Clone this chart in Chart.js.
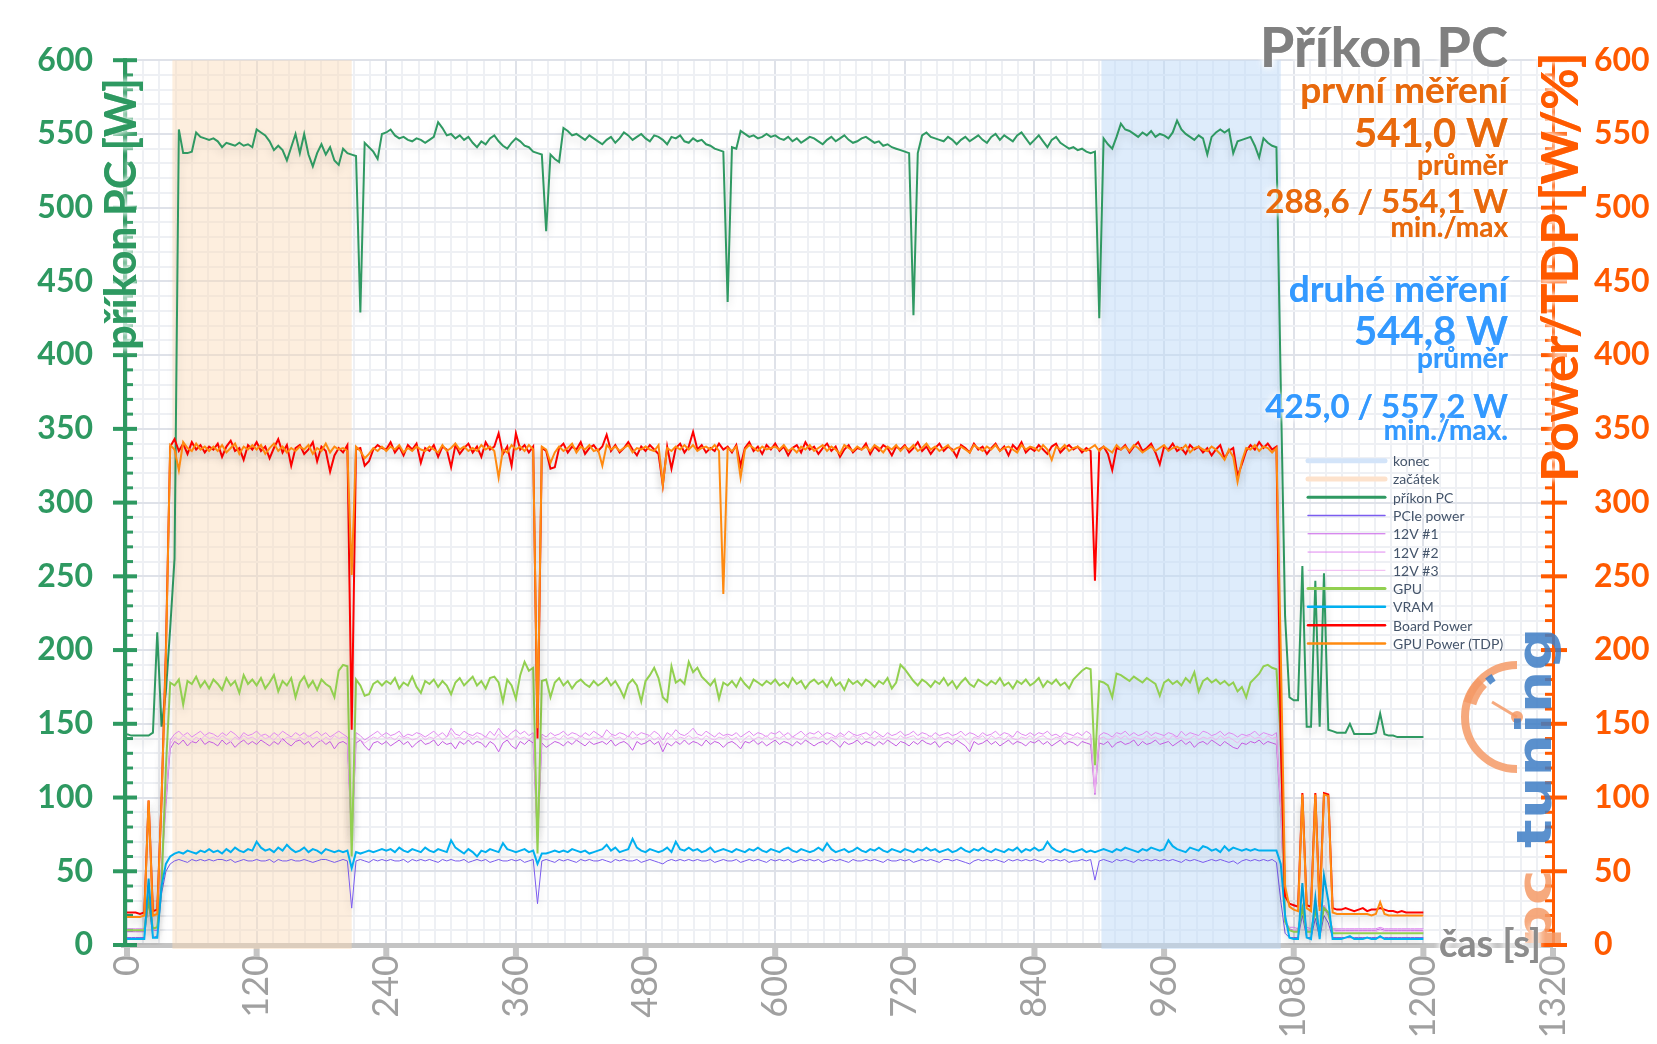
<!DOCTYPE html>
<html>
<head>
<meta charset="utf-8">
<script src="https://cdn.jsdelivr.net/npm/chart.js@4.4.1/dist/chart.umd.min.js"></script>
<style>
  html, body { margin: 0; padding: 0; background: #fff; }
  #wrap { width: 1657px; height: 1044px; position: relative; }
</style>
</head>
<body>
<div id="wrap"><canvas id="myChart"></canvas></div>
<script>
// time in seconds, one sample every 4 s
const seconds = [
  0, 4, 8, 12, 16, 20, 24, 28, 32, 36,
  40, 44, 48, 52, 56, 60, 64, 68, 72, 76,
  80, 84, 88, 92, 96, 100, 104, 108, 112, 116,
  120, 124, 128, 132, 136, 140, 144, 148, 152, 156,
  160, 164, 168, 172, 176, 180, 184, 188, 192, 196,
  200, 204, 208, 212, 216, 220, 224, 228, 232, 236,
  240, 244, 248, 252, 256, 260, 264, 268, 272, 276,
  280, 284, 288, 292, 296, 300, 304, 308, 312, 316,
  320, 324, 328, 332, 336, 340, 344, 348, 352, 356,
  360, 364, 368, 372, 376, 380, 384, 388, 392, 396,
  400, 404, 408, 412, 416, 420, 424, 428, 432, 436,
  440, 444, 448, 452, 456, 460, 464, 468, 472, 476,
  480, 484, 488, 492, 496, 500, 504, 508, 512, 516,
  520, 524, 528, 532, 536, 540, 544, 548, 552, 556,
  560, 564, 568, 572, 576, 580, 584, 588, 592, 596,
  600, 604, 608, 612, 616, 620, 624, 628, 632, 636,
  640, 644, 648, 652, 656, 660, 664, 668, 672, 676,
  680, 684, 688, 692, 696, 700, 704, 708, 712, 716,
  720, 724, 728, 732, 736, 740, 744, 748, 752, 756,
  760, 764, 768, 772, 776, 780, 784, 788, 792, 796,
  800, 804, 808, 812, 816, 820, 824, 828, 832, 836,
  840, 844, 848, 852, 856, 860, 864, 868, 872, 876,
  880, 884, 888, 892, 896, 900, 904, 908, 912, 916,
  920, 924, 928, 932, 936, 940, 944, 948, 952, 956,
  960, 964, 968, 972, 976, 980, 984, 988, 992, 996,
  1000, 1004, 1008, 1012, 1016, 1020, 1024, 1028, 1032, 1036,
  1040, 1044, 1048, 1052, 1056, 1060, 1064, 1068, 1072, 1076,
  1080, 1084, 1088, 1092, 1096, 1100, 1104, 1108, 1112, 1116,
  1120, 1124, 1128, 1132, 1136, 1140, 1144, 1148, 1152, 1156,
  1160, 1164, 1168, 1172, 1176, 1180, 1184, 1188, 1192, 1196,
  1200
];

const prikonPC = [
  143, 142, 142, 142, 142, 142, 144, 212, 148, 172,
  215, 262, 553, 537, 537, 538, 551, 548, 547, 546,
  547, 545, 541, 544, 543, 542, 544, 542, 543, 541,
  553, 551, 549, 545, 539, 542, 539, 532, 541, 550,
  537, 550, 536, 528, 537, 543, 536, 541, 532, 529,
  540, 537, 536, 535, 429, 544, 541, 538, 533, 550,
  551, 553, 549, 547, 548, 546, 545, 547, 546, 544,
  546, 548, 558, 554, 549, 550, 547, 549, 546, 548,
  544, 541, 545, 543, 547, 549, 545, 542, 540, 544,
  547, 545, 542, 541, 538, 537, 536, 484, 536, 533,
  531, 554, 552, 549, 550, 548, 546, 549, 547, 545,
  543, 546, 548, 544, 547, 551, 549, 546, 548, 550,
  547, 545, 549, 548, 546, 543, 548, 547, 549, 545,
  544, 547, 545, 546, 543, 542, 540, 539, 538, 436,
  541, 540, 552, 550, 548, 549, 547, 548, 550, 548,
  549, 547, 546, 548, 545, 547, 544, 546, 548, 547,
  545, 543, 546, 548, 545, 547, 549, 546, 544, 545,
  547, 548, 546, 544, 545, 542, 543, 541, 540, 539,
  538, 537, 427, 537, 549, 551, 548, 547, 546, 545,
  548, 546, 543, 546, 548, 545, 547, 549, 546, 544,
  548, 550, 546, 549, 547, 545, 549, 551, 547, 543,
  546, 549, 545, 541, 546, 548, 544, 542, 540, 541,
  539, 540, 538, 537, 538, 425, 547, 543, 540, 548,
  557, 553, 552, 550, 548, 551, 549, 552, 548, 550,
  549, 547, 551, 559, 553, 550, 548, 546, 549, 547,
  536, 548, 551, 553, 551, 553, 537, 545, 546, 547,
  548, 542, 534, 547, 544, 542, 541, 380, 223, 168,
  166, 166, 257, 148, 148, 247, 148, 252, 146, 145,
  144, 144, 144, 150, 143, 143, 143, 143, 143, 144,
  157, 143, 142, 142, 141, 141, 141, 141, 141, 141,
  141
];

const pciePower = [
  5, 5, 5, 5, 5, 30, 5, 6, 35, 50,
  55, 57, 58, 57, 56, 58, 57, 58, 57, 58,
  57, 58, 58, 57, 58, 56, 57, 58, 57, 57,
  58, 57, 57, 58, 56, 58, 57, 57, 58, 57,
  57, 58, 57, 56, 57, 58, 58, 57, 56, 57,
  58, 57, 25, 57, 58, 57, 56, 58, 57, 58,
  57, 58, 57, 57, 58, 56, 58, 57, 58, 57,
  58, 57, 56, 58, 57, 58, 57, 57, 58, 56,
  57, 58, 57, 58, 56, 57, 58, 57, 57, 58,
  57, 58, 56, 57, 58, 28, 57, 58, 57, 56,
  58, 57, 58, 57, 56, 58, 57, 58, 57, 57,
  58, 57, 56, 58, 57, 58, 57, 57, 58, 56,
  57, 58, 57, 56, 55, 57, 58, 57, 58, 57,
  58, 57, 58, 57, 57, 58, 56, 57, 58, 57,
  57, 58, 56, 57, 58, 57, 58, 57, 56, 58,
  57, 58, 57, 58, 56, 57, 58, 57, 58, 57,
  58, 56, 57, 58, 57, 58, 57, 56, 58, 57,
  57, 58, 57, 58, 57, 56, 58, 57, 57, 58,
  57, 58, 56, 57, 58, 57, 58, 57, 56, 58,
  58, 57, 58, 57, 56, 55, 57, 58, 57, 58,
  57, 58, 57, 56, 58, 57, 58, 57, 58, 57,
  58, 57, 56, 58, 57, 58, 57, 58, 56, 57,
  57, 58, 57, 58, 44, 57, 58, 57, 56, 58,
  57, 58, 57, 56, 58, 57, 58, 57, 58, 57,
  58, 57, 58, 57, 56, 58, 57, 58, 57, 56,
  57, 58, 57, 58, 57, 56, 57, 55, 57, 58,
  57, 58, 57, 58, 57, 58, 56, 30, 8, 5,
  5, 5, 20, 5, 5, 18, 5, 20, 15, 5,
  5, 5, 5, 5, 5, 5, 5, 5, 5, 5,
  5, 5, 5, 5, 5, 5, 5, 5, 5, 5,
  5
];

const rail12v1 = [
  9, 9, 9, 9, 9, 35, 10, 10, 50, 95,
  133, 138, 136, 139, 135, 138, 137, 140, 136, 138,
  137, 135, 139, 136, 138, 134, 137, 139, 136, 138,
  136, 139, 137, 135, 138, 136, 140, 137, 135, 138,
  139, 136, 138, 134, 137, 139, 136, 138, 133, 137,
  138, 136, 70, 137, 139, 135, 132, 137, 138, 136,
  138, 135, 137, 139, 136, 138, 134, 137, 139, 136,
  137, 139, 135, 138, 136, 137, 133, 138, 136, 139,
  136, 138, 137, 134, 138, 136, 131, 137, 139, 135,
  133, 138, 136, 139, 137, 70, 137, 134, 136, 138,
  137, 135, 138, 136, 139, 137, 135, 138, 136, 137,
  138, 136, 139, 135, 137, 138, 136, 132, 138, 136,
  137, 139, 136, 138, 131, 137, 135, 138, 136, 139,
  136, 138, 137, 135, 139, 136, 138, 137, 134, 137,
  138, 136, 133, 138, 137, 139, 136, 138, 135, 137,
  139, 136, 138, 137, 135, 138, 136, 139, 137, 135,
  137, 138, 136, 139, 137, 134, 138, 136, 137, 139,
  136, 138, 137, 135, 138, 136, 139, 137, 135, 138,
  137, 135, 138, 136, 139, 137, 136, 138, 134, 137,
  138, 136, 139, 137, 135, 131, 138, 136, 137, 139,
  136, 138, 135, 137, 139, 136, 138, 137, 135, 138,
  137, 139, 136, 138, 135, 137, 139, 136, 138, 137,
  135, 138, 137, 136, 102, 137, 136, 138, 134, 137,
  138, 136, 137, 139, 135, 138, 136, 137, 139, 136,
  137, 138, 135, 137, 139, 136, 138, 134, 137, 138,
  136, 139, 137, 135, 138, 136, 134, 133, 137, 136,
  138, 137, 139, 136, 138, 137, 136, 90, 15, 11,
  10, 10, 25, 10, 10, 22, 10, 25, 20, 10,
  10, 10, 10, 10, 10, 10, 10, 10, 10, 10,
  11, 10, 10, 10, 10, 10, 10, 10, 10, 10,
  10
];

const rail12v2 = [
  11, 11, 11, 11, 11, 38, 11, 12, 55, 100,
  139, 143, 145, 142, 144, 141, 143, 145, 142, 144,
  143, 141, 144, 142, 145, 143, 140, 144, 142, 143,
  145, 142, 143, 141, 144, 142, 145, 143, 141, 144,
  142, 144, 141, 143, 145, 142, 144, 141, 143, 145,
  143, 141, 75, 144, 142, 139, 141, 143, 145, 142,
  144, 142, 143, 145, 141, 143, 142, 144, 143, 141,
  143, 145, 142, 144, 141, 147, 143, 142, 145, 143,
  142, 144, 143, 141, 145, 142, 147, 143, 141, 144,
  146, 143, 145, 142, 144, 75, 143, 141, 144, 142,
  143, 145, 142, 144, 143, 141, 144, 142, 145, 143,
  141, 146, 143, 142, 144, 143, 141, 145, 142, 144,
  143, 142, 145, 143, 139, 144, 142, 146, 143, 142,
  144, 147, 143, 142, 145, 143, 141, 144, 142, 143,
  142, 144, 141, 143, 145, 142, 144, 143, 141, 144,
  143, 145, 142, 144, 141, 143, 145, 142, 144, 143,
  145, 142, 144, 143, 141, 144, 142, 145, 143, 142,
  143, 144, 142, 145, 143, 141, 144, 142, 143, 145,
  142, 143, 145, 142, 144, 143, 141, 144, 142, 143,
  144, 142, 143, 145, 142, 144, 143, 141, 144, 142,
  143, 145, 142, 144, 143, 141, 145, 143, 142, 144,
  142, 144, 143, 145, 142, 143, 141, 144, 143, 142,
  144, 142, 145, 143, 104, 142, 144, 143, 141, 144,
  143, 145, 142, 144, 142, 143, 145, 142, 144, 143,
  142, 144, 143, 141, 145, 142, 144, 143, 142, 145,
  144, 142, 143, 145, 142, 144, 143, 141, 143, 142,
  143, 145, 142, 144, 143, 142, 144, 95, 16, 12,
  12, 11, 27, 12, 11, 24, 11, 27, 22, 11,
  11, 11, 11, 11, 11, 11, 11, 11, 11, 11,
  12, 11, 11, 11, 11, 11, 11, 11, 11, 11,
  11
];

const rail12v3 = [
  10, 10, 10, 10, 10, 36, 10, 11, 52, 98,
  136, 141, 139, 142, 140, 138, 141, 139, 142, 140,
  141, 139, 142, 140, 138, 141, 139, 142, 140, 141,
  139, 142, 140, 141, 139, 142, 138, 141, 140, 139,
  141, 139, 142, 140, 141, 138, 141, 139, 142, 140,
  141, 140, 72, 141, 139, 137, 139, 141, 140, 142,
  140, 141, 139, 142, 140, 141, 139, 140, 142, 139,
  141, 140, 142, 139, 141, 144, 140, 141, 139, 142,
  140, 142, 139, 141, 140, 139, 143, 140, 141, 139,
  142, 140, 141, 139, 142, 72, 141, 139, 140, 141,
  139, 142, 140, 141, 139, 142, 140, 139, 141, 140,
  141, 139, 142, 140, 141, 139, 142, 140, 141, 139,
  140, 142, 139, 141, 135, 140, 142, 139, 141, 140,
  142, 140, 141, 139, 142, 140, 139, 141, 140, 142,
  139, 141, 137, 140, 142, 139, 141, 140, 142, 139,
  141, 140, 142, 139, 141, 140, 139, 142, 140, 141,
  140, 142, 139, 141, 140, 142, 141, 139, 142, 140,
  142, 139, 141, 140, 142, 139, 141, 140, 139, 142,
  140, 141, 142, 139, 141, 140, 142, 139, 141, 140,
  141, 139, 140, 142, 139, 136, 141, 140, 142, 139,
  142, 140, 141, 139, 142, 140, 139, 141, 140, 142,
  139, 141, 142, 140, 139, 141, 140, 142, 139, 141,
  141, 140, 139, 142, 103, 140, 141, 139, 140, 142,
  140, 142, 139, 141, 140, 139, 142, 140, 141, 139,
  141, 139, 142, 140, 141, 139, 140, 142, 139, 141,
  140, 141, 139, 142, 140, 141, 139, 137, 140, 141,
  142, 140, 141, 139, 142, 140, 141, 92, 15, 10,
  10, 10, 26, 10, 10, 23, 10, 26, 21, 10,
  9, 9, 9, 9, 9, 9, 9, 9, 9, 9,
  10, 9, 9, 9, 9, 9, 9, 9, 9, 9,
  9
];

const gpuCore = [
  10, 10, 10, 10, 10, 30, 11, 12, 40, 120,
  178, 176, 180, 163, 179, 177, 182, 175, 179, 174,
  180, 177, 173, 181, 176, 179, 171, 183, 177, 180,
  176, 181, 174, 178, 183, 172, 179, 176, 181, 168,
  178, 182, 175, 179, 173, 180, 177, 175, 168, 186,
  190, 189, 60, 180, 176, 169, 170, 177, 179, 176,
  179, 177, 181, 174, 178, 176, 182, 175, 171, 179,
  177, 180, 175, 179, 176, 170, 178, 181, 176, 179,
  182, 176, 179, 174, 181, 182, 178, 165, 180, 176,
  167, 183, 192, 186, 188, 62, 179, 180, 168, 178,
  181, 176, 179, 174, 178, 180, 177, 175, 179, 176,
  178, 181, 176, 179, 174, 168, 177, 180, 176, 165,
  179, 183, 188, 181, 168, 165, 189, 178, 180, 177,
  192, 185, 188, 182, 179, 176, 180, 167, 178, 176,
  179, 175, 181, 177, 174, 180, 178, 176, 179, 177,
  180, 176, 178, 175, 181, 177, 179, 174, 178, 180,
  177, 179, 175, 181, 176, 178, 173, 180, 177, 179,
  176, 180, 178, 175, 179, 177, 181, 174, 178, 190,
  187, 183, 179, 176, 180, 178, 175, 179, 177, 181,
  176, 179, 174, 178, 181, 177, 175, 180, 178, 176,
  179, 177, 181, 176, 178, 174, 179, 177, 180, 176,
  178, 181, 175, 179, 177, 180, 176, 178, 174, 180,
  183, 186, 188, 187, 122, 179, 178, 176, 168, 184,
  183, 181, 179, 182, 180, 178, 181, 179, 177, 169,
  178, 180, 177, 179, 176, 181, 178, 185, 172, 179,
  181, 178, 180, 177, 179, 176, 178, 172, 175, 168,
  178, 181, 184, 189, 190, 188, 187, 140, 16, 10,
  9, 9, 25, 9, 9, 24, 9, 25, 22, 8,
  8, 8, 8, 8, 8, 8, 8, 8, 8, 8,
  8, 8, 8, 8, 8, 8, 8, 8, 8, 8,
  8
];

const vramPower = [
  4, 4, 4, 4, 4, 45, 5, 5, 40, 55,
  60, 62, 63, 62, 64, 63, 62, 64, 63, 65,
  63, 64, 62, 65, 63, 66, 64, 63, 65, 64,
  70, 66, 64, 65, 63, 66, 64, 68, 65, 63,
  64, 66, 63, 65, 64, 62, 65, 64, 63, 64,
  63, 64, 52, 63, 62, 63, 64, 63, 64, 65,
  64, 65, 63, 66, 64, 63, 65, 64, 63, 66,
  64, 63, 65, 64, 63, 71, 66, 64, 62, 65,
  63, 60, 64, 63, 65, 64, 63, 69, 65, 64,
  63, 64, 65, 63, 64, 55, 62, 62, 63, 64,
  63, 64, 63, 65, 64, 63, 64, 62, 63, 64,
  65, 68, 64, 66, 63, 64, 65, 72, 66, 64,
  63, 65, 64, 63, 64, 66, 63, 70, 65, 64,
  66, 64, 65, 63, 64, 66, 63, 64, 65, 64,
  63, 65, 64, 63, 65, 64, 66, 64, 63, 65,
  64, 63, 65, 66, 64, 63, 65, 64, 63, 64,
  66, 64, 69, 65, 63, 64, 65, 63, 64, 66,
  64, 63, 65, 64, 66, 64, 63, 65, 64, 63,
  65, 64, 63, 65, 64, 66, 64, 65, 63, 64,
  65, 63, 64, 66, 64, 63, 65, 64, 66, 64,
  63, 65, 64, 63, 65, 64, 66, 63, 65, 64,
  66, 64, 65, 70, 66, 64, 63, 65, 64, 63,
  64, 65, 63, 64, 63, 64, 65, 64, 63, 65,
  64, 66, 65, 64, 63, 65, 64, 66, 65, 64,
  65, 71, 67, 65, 64, 63, 66, 65, 64, 67,
  66, 64, 65, 63, 67, 64, 66, 65, 64, 65,
  64, 65, 64, 64, 64, 64, 64, 55, 20, 5,
  4, 4, 42, 5, 4, 32, 4, 47, 30, 4,
  4, 4, 5, 6, 4, 4, 4, 5, 4, 4,
  6, 4, 4, 4, 4, 4, 4, 4, 4, 4,
  4
];

const boardPower = [
  22, 22, 22, 21, 22, 98, 23, 24, 99, 200,
  338, 343, 335, 340, 333, 341, 336, 339, 334, 338,
  336, 340, 331, 338, 342, 335, 337, 329, 339, 336,
  341, 335, 338, 330, 337, 343, 334, 339, 325, 337,
  339, 333, 336, 341, 328, 338, 335, 321, 332, 337,
  334, 339, 146, 336, 337, 325, 328, 336, 339, 337,
  336, 341, 334, 338, 332, 339, 336, 340, 327, 337,
  335, 339, 331, 338, 336, 324, 339, 333, 337, 340,
  334, 338, 331, 341, 336, 338, 347, 333, 338, 325,
  347, 336, 339, 334, 338, 140, 337, 335, 323, 324,
  337, 340, 334, 338, 336, 341, 333, 337, 339, 335,
  338, 346, 335, 339, 334, 337, 341, 336, 332, 338,
  335, 339, 336, 333, 312, 338, 323, 337, 340, 334,
  338, 348, 336, 339, 334, 337, 335, 340, 336, 338,
  334, 339, 325, 337, 341, 335, 338, 333, 339, 336,
  340, 335, 338, 332, 337, 339, 334, 341, 336, 338,
  333, 337, 340, 335, 338, 331, 336, 339, 334, 337,
  336, 340, 333, 338, 335, 339, 337, 332, 338, 336,
  339, 334, 337, 341, 335, 338, 333, 337, 340, 335,
  338, 336, 331, 339, 337, 334, 340, 336, 338, 333,
  337, 340, 335, 338, 332, 339, 336, 341, 334, 337,
  335, 339, 336, 333, 338, 340, 334, 337, 339, 336,
  338, 334, 337, 335, 247, 336, 338, 333, 322, 337,
  336, 339, 334, 338, 341, 335, 337, 340, 334, 326,
  338, 336, 340, 335, 337, 333, 339, 336, 338, 334,
  337, 332, 336, 339, 330, 335, 337, 318, 326, 335,
  339, 336, 341, 337, 340, 336, 338, 137, 33, 28,
  27, 26, 103, 27, 26, 103, 26, 103, 102, 25,
  24, 24, 25, 24, 23, 24, 25, 23, 24, 24,
  25, 24, 23, 23, 22, 23, 22, 22, 22, 22,
  22
];

const tdpPower = [
  19, 19, 19, 19, 20, 98, 20, 21, 99, 195,
  339, 336, 322, 341, 337, 335, 340, 336, 338, 335,
  338, 335, 339, 334, 337, 340, 333, 338, 336, 339,
  336, 339, 333, 337, 340, 335, 338, 334, 337, 335,
  338, 336, 339, 333, 337, 335, 340, 334, 338, 336,
  337, 335, 251, 338, 335, 330, 333, 337, 335, 338,
  335, 338, 336, 339, 334, 337, 335, 338, 336, 335,
  338, 336, 334, 339, 335, 337, 340, 336, 338, 335,
  337, 335, 339, 336, 338, 335, 317, 336, 334, 339,
  336, 338, 335, 339, 336, 147, 338, 336, 327, 334,
  338, 335, 337, 340, 334, 338, 336, 339, 335, 336,
  325, 339, 336, 338, 335, 337, 339, 334, 337, 336,
  338, 336, 335, 339, 312, 337, 335, 338, 336, 339,
  336, 339, 335, 337, 338, 336, 339, 335, 238, 337,
  335, 338, 317, 336, 339, 337, 335, 338, 336, 337,
  338, 336, 339, 335, 337, 334, 338, 336, 339, 335,
  337, 339, 335, 338, 336, 333, 339, 337, 335, 338,
  336, 338, 335, 339, 337, 334, 338, 336, 339, 335,
  338, 336, 339, 335, 337, 340, 336, 338, 335, 337,
  339, 335, 337, 338, 336, 334, 339, 337, 335, 338,
  336, 339, 335, 337, 338, 336, 334, 339, 336, 338,
  337, 335, 339, 336, 329, 338, 336, 339, 335, 337,
  338, 336, 335, 337, 339, 335, 338, 336, 334, 339,
  336, 338, 335, 339, 337, 334, 336, 338, 335, 337,
  339, 335, 337, 338, 336, 339, 334, 337, 338, 336,
  335, 338, 336, 333, 329, 336, 331, 314, 328, 337,
  336, 339, 335, 338, 337, 334, 337, 200, 40, 26,
  24, 23, 102, 25, 23, 102, 23, 102, 101, 22,
  21, 21, 21, 21, 21, 21, 21, 21, 20, 21,
  29, 21, 20, 20, 20, 20, 20, 20, 20, 20,
  20
];

// measured windows (s)
const startWindow = [42, 208];
const endWindow = [902, 1068];

const chartTitle = 'Příkon PC';
const firstRun = ['první měření', '541,0 W', 'průměr', '288,6 / 554,1 W', 'min./max'];
const secondRun = ['druhé měření', '544,8 W', 'průměr', '425,0 / 557,2 W', 'min./max.'];

const series = [
  { label: 'příkon PC', values: prikonPC, color: '#2f9962', width: 2, key: 3 },
  { label: 'PCIe power', values: pciePower, color: '#7b5cf0', width: 1, key: 1.5 },
  { label: '12V #1', values: rail12v1, color: '#c95fe8', width: 1, key: 1 },
  { label: '12V #2', values: rail12v2, color: '#e088f0', width: 1, key: 1 },
  { label: '12V #3', values: rail12v3, color: '#f0b2f2', width: 1, key: 1 },
  { label: 'GPU', values: gpuCore, color: '#92d050', width: 2, key: 3 },
  { label: 'VRAM', values: vramPower, color: '#00b0f0', width: 2, key: 2.5 },
  { label: 'Board Power', values: boardPower, color: '#ff0000', width: 2, key: 2.5 },
  { label: 'GPU Power (TDP)', values: tdpPower, color: '#ff8a10', width: 2, key: 2.5 }
];

Chart.defaults.font.family = 'Lato';

const green = '#2e9961';
const orangeRed = '#ff5a00';

function glowText(ctx, text, x, y, font, color, align) {
  ctx.font = font;
  ctx.textAlign = align;
  ctx.textBaseline = 'alphabetic';
  ctx.fillStyle = color;
  ctx.shadowColor = '#ffffff';
  ctx.shadowBlur = 7;
  ctx.fillText(text, x, y);
  ctx.fillText(text, x, y);
  ctx.shadowBlur = 0;
  ctx.shadowColor = 'transparent';
}

const lineShadow = {
  id: 'lineShadow',
  beforeDatasetDraw(chart) {
    const ctx = chart.ctx;
    ctx.save();
    ctx.shadowColor = 'rgba(0,0,0,0.16)';
    ctx.shadowBlur = 9;
    ctx.shadowOffsetY = 5;
  },
  afterDatasetDraw(chart) {
    chart.ctx.restore();
  }
};

const decor = {
  id: 'decor',
  beforeDatasetsDraw(chart) {
    const { ctx, chartArea: a, scales: { x, y } } = chart;
    ctx.save();
    // bottom axis
    ctx.fillStyle = '#c4c4c4';
    ctx.fillRect(a.left - 6, a.bottom - 2, a.right - a.left + 6, 5);
    x.ticks.forEach(t => {
      if (t.value % 120 === 0) ctx.fillRect(x.getPixelForValue(t.value) - 3, a.bottom + 3, 6, 9);
    });
    // start / end windows
    ctx.fillStyle = 'rgba(251,218,182,0.45)';
    let x1 = x.getPixelForValue(startWindow[0]), x2 = x.getPixelForValue(startWindow[1]);
    ctx.fillRect(x1, a.top, x2 - x1, a.bottom - a.top + 4);
    ctx.fillStyle = 'rgba(190,218,248,0.5)';
    x1 = x.getPixelForValue(endWindow[0]); x2 = x.getPixelForValue(endWindow[1]);
    ctx.fillRect(x1, a.top, x2 - x1, a.bottom - a.top + 4);
    // left axis
    ctx.fillStyle = green;
    ctx.fillRect(a.left - 4, a.top - 2, 4, a.bottom - a.top + 4);
    y.ticks.forEach(t => {
      const py = y.getPixelForValue(t.value);
      if (t.value % 50 === 0) ctx.fillRect(a.left - 14, py - 2, 24, 4);
      else ctx.fillRect(a.left - 4, py - 1.5, 10, 3);
    });
    // right axis
    ctx.fillStyle = orangeRed;
    ctx.fillRect(a.right - 1, a.top - 2, 3, a.bottom - a.top + 4);
    y.ticks.forEach(t => {
      const py = y.getPixelForValue(t.value);
      if (t.value % 50 === 0) ctx.fillRect(a.right - 12, py - 2, 26, 4);
      else ctx.fillRect(a.right - 8, py - 1.5, 9, 3);
    });
    // pctuning watermark
    ctx.globalAlpha = 0.85;
    ctx.strokeStyle = '#f59a66';
    ctx.lineWidth = 8;
    ctx.beginPath();
    ctx.arc(1517, 717, 52, Math.PI * 1.5, Math.PI * 0.5, true);
    ctx.stroke();
    ctx.lineWidth = 13;
    ctx.beginPath();
    ctx.arc(1517, 717, 49, Math.PI * 1.09, Math.PI * 1.25);
    ctx.stroke();
    ctx.strokeStyle = '#3d7cc4';
    ctx.lineWidth = 8;
    ctx.beginPath();
    ctx.arc(1517, 717, 46, Math.PI * 1.28, Math.PI * 1.33);
    ctx.stroke();
    ctx.strokeStyle = '#f59a66';
    ctx.lineWidth = 3;
    ctx.beginPath();
    ctx.moveTo(1517, 717);
    ctx.lineTo(1492, 702);
    ctx.stroke();
    ctx.fillStyle = '#f59a66';
    ctx.beginPath();
    ctx.arc(1517, 717, 6, 0, Math.PI * 2);
    ctx.fill();
    ctx.save();
    ctx.translate(1551, 948);
    ctx.rotate(-Math.PI / 2);
    ctx.scale(1, 0.8);
    ctx.font = 'bold 60px "DejaVu Sans"';
    ctx.textAlign = 'left';
    ctx.textBaseline = 'alphabetic';
    ctx.fillStyle = '#f59a66';
    ctx.fillText('pc', 0, 0);
    ctx.fillStyle = '#3d7cc4';
    ctx.fillText('tuning', 100, 0);
    ctx.restore();
    ctx.restore();
  },
  afterDatasetsDraw(chart) {
    const { ctx } = chart;
    ctx.save();
    // legend
    const items = [
      { label: 'konec', color: '#d3e4f9', key: 5 },
      { label: 'začátek', color: '#fde2cc', key: 5 }
    ].concat(series.map(s => ({ label: s.label, color: s.color, key: s.key })));
    items.forEach((it, i) => {
      const cy = 460.7 + i * 18.27;
      ctx.strokeStyle = it.color;
      ctx.lineWidth = it.key;
      ctx.lineCap = 'round';
      ctx.beginPath();
      ctx.moveTo(1308, cy);
      ctx.lineTo(1385, cy);
      ctx.stroke();
      ctx.font = '14px Lato';
      ctx.fillStyle = '#44546a';
      ctx.textAlign = 'left';
      ctx.textBaseline = 'middle';
      ctx.fillText(it.label, 1393, cy + 1);
    });
    // annotations
    glowText(ctx, chartTitle, 1508, 67, 'bold 56px Lato', '#808080', 'right');
    const sizes = [37, 40, 28, 33, 28];
    const y1 = [103, 147, 175, 213, 237];
    const y2 = [302, 345, 368, 418, 440];
    firstRun.forEach((t, i) => glowText(ctx, t, 1508, y1[i], 'bold ' + sizes[i] + 'px Lato', '#e8690c', 'right'));
    secondRun.forEach((t, i) => glowText(ctx, t, 1508, y2[i], 'bold ' + sizes[i] + 'px Lato', '#3399ff', 'right'));
    // axis titles
    ctx.save();
    ctx.translate(121, 214);
    ctx.rotate(-Math.PI / 2);
    glowText(ctx, 'příkon PC [W]', 0, 15, 'bold 43px Lato', green, 'center');
    ctx.restore();
    ctx.save();
    ctx.translate(1561, 267);
    ctx.rotate(-Math.PI / 2);
    glowText(ctx, 'Power/TDP [W/%]', 0, 17, 'bold 51px Lato', orangeRed, 'center');
    ctx.restore();
    glowText(ctx, 'čas [s]', 1439, 957, 'bold 38px Lato', '#8c8c8c', 'left');
    ctx.restore();
  }
};

const ctx = document.getElementById('myChart').getContext('2d');
const myChart = new Chart(ctx, {
  type: 'line',
  data: {
    datasets: series.map((s, i) => ({
      label: s.label,
      data: seconds.map((t, k) => ({ x: t, y: s.values[k] })),
      borderColor: s.color,
      backgroundColor: s.color,
      borderWidth: s.width,
      pointRadius: 0,
      tension: 0,
      fill: false,
      order: series.length - i
    }))
  },
  options: {
    responsive: true,
    maintainAspectRatio: false,
    animation: false,
    events: [],
    layout: { padding: { top: 58, left: 0, right: 0, bottom: 0 } },
    plugins: {
      legend: { display: false },
      tooltip: { enabled: false }
    },
    scales: {
      x: {
        type: 'linear',
        min: 0,
        max: 1320,
        afterFit: s => { s.height = 99; },
        border: { display: false },
        grid: {
          drawTicks: false,
          color: c => (c.tick && c.tick.value % 120 === 0 ? '#dfe2e9' : '#eef0f4'),
          lineWidth: 2
        },
        ticks: {
          stepSize: 15,
          autoSkip: false,
          minRotation: 90,
          maxRotation: 90,
          padding: 10,
          color: '#a0a0a0',
          font: { size: 36 },
          callback: v => (v % 120 === 0 ? v : '')
        }
      },
      y: {
        min: 0,
        max: 600,
        afterFit: s => { s.width = 127; },
        border: { display: false },
        grid: {
          drawTicks: false,
          color: c => (c.tick && c.tick.value % 50 === 0 ? '#dfe2e9' : '#eef0f4'),
          lineWidth: 2
        },
        ticks: {
          stepSize: 10,
          autoSkip: false,
          padding: 34,
          color: green,
          font: { size: 32, weight: 'bold' },
          callback: v => (v % 50 === 0 ? v : '')
        }
      },
      y2: {
        position: 'right',
        min: 0,
        max: 600,
        afterFit: s => { s.width = 104; },
        border: { display: false },
        grid: { display: false, drawTicks: false },
        ticks: {
          stepSize: 10,
          autoSkip: false,
          padding: 41,
          color: orangeRed,
          font: { size: 32, weight: 'bold' },
          callback: v => (v % 50 === 0 ? v : '')
        }
      }
    }
  },
  plugins: [lineShadow, decor]
});
</script>
</body>
</html>
